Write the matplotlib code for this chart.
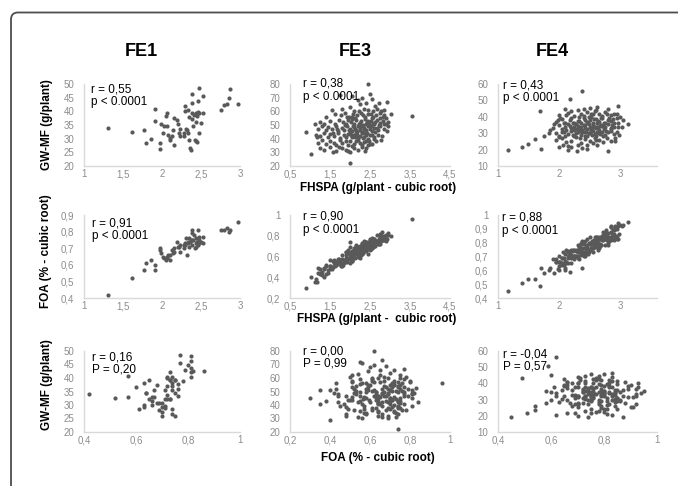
import matplotlib
matplotlib.use('Agg')
import matplotlib.pyplot as plt
from matplotlib import ticker
from matplotlib.patches import FancyBboxPatch
from matplotlib.transforms import IdentityTransform

plt.rcParams['font.family'] = ['Liberation Sans', 'DejaVu Sans']

W, H = 678, 486

# ---- FE1 (one value per genotype) ----
fe1_fhspa = [1.31, 1.62, 1.77, 1.80, 1.86, 1.91, 1.91, 1.98, 1.98, 1.99,
             2.02, 2.05, 2.06, 2.06, 2.01, 2.10, 2.10, 2.13, 2.15, 2.16,
             2.19, 2.14, 2.22, 2.23, 2.23, 2.28, 2.28, 2.30, 2.30, 2.33,
             2.31, 2.33, 2.35, 2.36, 2.38, 2.39, 2.39, 2.39, 2.40, 2.42,
             2.43, 2.44, 2.45, 2.46, 2.48, 2.46, 2.48, 2.48, 2.50, 2.53,
             2.53, 2.75, 2.80, 2.83, 2.86, 2.87, 2.97, 2.43, 2.45, 2.37,
             2.41, 2.35, 2.20, 2.32, 2.08]
fe1_gwmf = [34.0, 32.6, 33.0, 28.4, 29.9, 40.7, 36.6, 28.3, 26.1, 35.5,
            34.6, 38.3, 39.4, 34.6, 32.2, 30.1, 29.4, 30.8, 27.5, 37.5,
            36.9, 33.0, 32.2, 30.8, 33.6, 32.2, 30.8, 42.1, 40.2, 40.4,
            33.4, 32.2, 29.6, 26.6, 46.4, 43.0, 39.3, 37.1, 34.6, 29.4,
            39.3, 36.0, 38.3, 43.7, 48.5, 39.9, 32.2, 39.3, 35.7, 45.6,
            39.3, 40.5, 42.3, 42.5, 44.8, 48.2, 42.7, 29.0, 28.7, 26.0,
            38.8, 37.8, 35.5, 33.0, 31.5]
fe1_foa = [0.42, 0.52, 0.57, 0.61, 0.63, 0.57, 0.60, 0.69, 0.70, 0.67,
           0.64, 0.63, 0.65, 0.64, 0.65, 0.66, 0.63, 0.69, 0.70, 0.68,
           0.74, 0.67, 0.71, 0.68, 0.72, 0.72, 0.70, 0.73, 0.72, 0.74,
           0.76, 0.73, 0.71, 0.74, 0.81, 0.79, 0.75, 0.72, 0.75, 0.70,
           0.73, 0.76, 0.74, 0.81, 0.77, 0.72, 0.73, 0.75, 0.74, 0.77,
           0.73, 0.81, 0.81, 0.82, 0.80, 0.81, 0.86, 0.71, 0.74, 0.75,
           0.78, 0.76, 0.71, 0.66, 0.66]

# ---- FE3 ----
fe3_fhspa = [0.90, 1.03, 1.12, 1.18, 1.15, 3.55, 2.46, 1.75, 2.00, 2.50,
             2.05, 2.55, 2.92, 3.02, 2.30, 2.20, 2.62, 2.72, 2.40, 1.80,
             1.55, 2.00, 2.10, 2.25, 2.35, 2.45, 2.58, 2.68, 2.78, 2.86,
             1.40, 1.62, 1.78, 1.88, 1.98, 2.08, 2.18, 2.28, 2.38, 2.52,
             2.58, 2.66, 2.74, 2.82, 2.90, 2.22, 2.44, 2.12, 1.92, 2.32,
             1.25, 1.35, 1.50, 1.62, 1.72, 1.82, 1.90, 1.96, 2.02, 2.10,
             2.16, 2.22, 2.27, 2.33, 2.38, 2.43, 2.48, 2.53, 2.58, 2.63,
             2.68, 2.75, 2.82, 2.90, 2.96, 2.72, 2.86, 2.55, 2.40, 2.06,
             1.20, 1.30, 1.40, 1.46, 1.55, 1.65, 1.70, 1.80, 1.86, 1.92,
             2.00, 2.05, 2.10, 2.15, 2.20, 2.25, 2.30, 2.35, 2.40, 2.45,
             2.50, 2.55, 2.60, 2.70, 2.75, 2.85, 2.92, 2.12, 2.28, 2.62,
             1.25, 1.35, 1.45, 1.50, 1.60, 1.70, 1.75, 1.85, 1.90, 2.00,
             2.05, 2.10, 2.15, 2.20, 2.25, 2.30, 2.35, 2.40, 2.45, 2.50,
             2.60, 2.70, 2.80, 2.18, 2.32, 2.02, 1.95, 2.42, 2.56, 2.12,
             1.20, 1.30, 1.40, 1.50, 1.60, 1.65, 1.75, 1.80, 1.90, 1.95,
             2.00, 2.10, 2.20, 2.25, 2.30, 2.40, 2.50, 2.60, 2.15, 2.35,
             1.25, 1.35, 1.50, 1.65, 1.80, 1.90, 2.00, 2.10, 2.20, 2.30,
             2.40, 2.38, 1.58, 1.95, 2.05, 2.45, 1.72, 2.55, 2.65, 2.78,
             2.08, 2.18, 2.26, 2.34, 2.44, 2.52, 2.60, 2.68, 1.88, 1.98,
             2.04, 2.14, 2.24, 2.36, 2.48, 1.68, 1.58, 2.76, 2.84, 2.94]
fe3_gwmf = [45, 29, 51, 41, 43, 56.5, 80, 72, 22.5, 73,
            71, 69, 67, 58, 70, 68, 64, 66, 66, 62,
            61, 63, 60, 65, 62, 61, 60, 62, 60, 61,
            56, 58, 57, 59, 56, 58, 57, 59, 56, 58,
            55.5, 57, 59, 56, 55, 60, 58, 55, 55.5, 57,
            52, 51, 53, 50.5, 54, 52, 51, 53.5, 52, 50.5,
            54, 51, 53, 50, 54.5, 52, 51, 53, 50.5, 52,
            54, 51.5, 53, 51, 52.5, 50, 50.5, 55, 50.5, 54.5,
            47, 49, 46, 48.5, 47, 49, 45.5, 48, 46, 49.5,
            47, 45.5, 48.5, 46, 49, 47.5, 45, 48, 46.5, 49,
            47, 45.5, 48, 46, 49, 47, 45.5, 47, 49.5, 45,
            42, 44, 41, 43.5, 42, 44.5, 40.5, 43, 41.5, 44,
            41, 43, 44.5, 40.5, 42, 44, 41.5, 43, 40, 42.5,
            41, 43, 42, 42.5, 40.5, 42.5, 43.5, 44.5, 43, 41.5,
            37, 39, 36, 38.5, 37, 35.5, 39, 36.5, 38, 35.5,
            38, 36, 39, 37, 35.5, 38, 36, 39.5, 38.5, 37.5,
            33, 32, 34, 31, 33.5, 32, 30.5, 33, 31.5, 34,
            33, 31, 30.5, 31, 34.5, 35, 34, 36, 38, 39,
            49.5, 45, 51.5, 47, 53, 49.5, 51, 48, 50, 46,
            56, 43, 46.5, 44, 38.5, 47, 44, 55, 57, 49]
fe3_foa = [0.30, 0.40, 0.35, 0.35, 0.38, 0.96, 0.62, 0.55, 0.74, 0.66,
           0.56, 0.68, 0.77, 0.80, 0.62, 0.60, 0.70, 0.72, 0.65, 0.51,
           0.50, 0.54, 0.61, 0.59, 0.65, 0.67, 0.69, 0.75, 0.75, 0.78,
           0.43, 0.51, 0.51, 0.55, 0.58, 0.61, 0.62, 0.61, 0.71, 0.67,
           0.72, 0.74, 0.77, 0.76, 0.75, 0.64, 0.72, 0.59, 0.55, 0.65,
           0.43, 0.40, 0.51, 0.53, 0.53, 0.52, 0.59, 0.59, 0.58, 0.61,
           0.67, 0.62, 0.68, 0.63, 0.71, 0.69, 0.70, 0.74, 0.73, 0.75,
           0.74, 0.79, 0.77, 0.81, 0.83, 0.77, 0.76, 0.70, 0.71, 0.60,
           0.44, 0.42, 0.51, 0.44, 0.48, 0.52, 0.58, 0.53, 0.57, 0.58,
           0.62, 0.57, 0.66, 0.65, 0.66, 0.63, 0.70, 0.69, 0.68, 0.69,
           0.77, 0.70, 0.77, 0.72, 0.82, 0.79, 0.81, 0.64, 0.67, 0.75,
           0.44, 0.49, 0.47, 0.51, 0.54, 0.565, 0.56, 0.55, 0.64, 0.595,
           0.65, 0.64, 0.70, 0.64, 0.66, 0.71, 0.75, 0.70, 0.72, 0.74,
           0.77, 0.75, 0.84, 0.69, 0.70, 0.60, 0.63, 0.73, 0.74, 0.64,
           0.49, 0.45, 0.52, 0.48, 0.57, 0.55, 0.57, 0.61, 0.61, 0.64,
           0.63, 0.68, 0.66, 0.70, 0.72, 0.74, 0.76, 0.74, 0.71, 0.69,
           0.48, 0.48, 0.57, 0.54, 0.58, 0.64, 0.69, 0.66, 0.69, 0.73,
           0.74, 0.73, 0.56, 0.66, 0.64, 0.72, 0.58, 0.78, 0.75, 0.81,
           0.63, 0.64, 0.66, 0.67, 0.71, 0.74, 0.70, 0.81, 0.55, 0.63,
           0.56, 0.68, 0.64, 0.71, 0.74, 0.55, 0.50, 0.72, 0.80, 0.81]

# ---- FE4 ----
fe4_fhspa = [1.16, 1.40, 1.49, 1.60, 1.69, 1.71, 1.75, 1.83, 2.17, 2.37,
             2.10, 2.97, 3.13, 3.00, 2.97, 3.05, 2.29, 2.14, 1.99, 2.91,
             2.00, 2.15, 2.30, 2.40, 2.45, 2.50, 2.55, 2.60, 2.65, 2.70,
             2.75, 2.85, 2.90, 2.25, 2.35, 2.62, 2.48, 2.80, 2.20, 2.68,
             1.95, 2.05, 2.10, 2.20, 2.30, 2.35, 2.40, 2.45, 2.50, 2.55,
             2.60, 2.65, 2.70, 2.75, 2.80, 2.85, 2.90, 2.95, 2.25, 2.52,
             1.90, 2.00, 2.05, 2.10, 2.15, 2.20, 2.25, 2.30, 2.35, 2.40,
             2.45, 2.50, 2.55, 2.60, 2.65, 2.70, 2.75, 2.80, 2.85, 2.90,
             2.28, 2.42, 2.58, 2.38, 2.68, 2.18, 2.48, 2.32, 2.62, 2.52,
             1.95, 2.00, 2.08, 2.15, 2.20, 2.25, 2.30, 2.35, 2.40, 2.45,
             2.50, 2.55, 2.60, 2.65, 2.70, 2.75, 2.80, 2.85, 2.90, 2.35,
             2.12, 2.22, 2.42, 2.52, 2.62, 2.72, 2.28, 2.48, 2.58, 2.05,
             1.95, 2.05, 2.12, 2.20, 2.28, 2.35, 2.42, 2.50, 2.58, 2.65,
             2.72, 2.78, 2.85, 2.30, 2.45, 2.15, 2.55, 2.38, 2.62, 2.92,
             2.33, 2.43, 2.53, 2.63, 2.73, 2.37, 2.47, 2.57, 2.67, 2.27,
             2.08, 2.18, 2.44, 2.54, 2.64, 2.74, 2.84, 2.94, 2.24, 2.34,
             2.02, 2.12, 2.22, 2.32, 2.42, 2.52, 2.62, 2.72, 2.82, 2.40,
             1.85, 1.92, 2.00, 2.06, 1.98, 2.10, 2.20, 2.45, 2.60, 2.80,
             2.88, 2.95, 3.02, 2.98, 2.78, 2.58, 2.66, 2.76, 2.86, 2.96]
fe4_gwmf = [19.5, 21.5, 23.7, 26.2, 43.5, 20.5, 28, 30, 50.8, 56,
            45, 46.5, 35.4, 40, 34, 38, 19.4, 20, 21.5, 27,
            41, 42.5, 44, 40.5, 43, 45.5, 41.5, 44, 42, 40.5,
            43, 41, 42, 40.5, 42, 46, 40, 44.5, 43.5, 39.5,
            37, 38.5, 36, 39, 37.5, 36.5, 39, 37, 38, 36.5,
            38.5, 37, 39.5, 36, 38, 37.5, 36.5, 39, 36, 40,
            33, 35, 32.5, 34, 35.5, 33, 32, 34.5, 33.5, 35,
            32.5, 34, 35, 33, 32, 34.5, 33.5, 35.5, 32.5, 34,
            35.5, 33, 34, 32, 35, 34.5, 35.5, 32.5, 33.5, 32,
            30, 28.5, 31, 29.5, 31.5, 28, 30.5, 29, 31, 28.5,
            30, 31.5, 28.5, 30, 31, 29, 30.5, 31.5, 29.5, 31.5,
            32, 29, 28, 32, 31, 28, 32.5, 30, 29.5, 30.5,
            26, 27, 24.5, 25.5, 27.5, 24, 26.5, 25, 27, 26,
            24.5, 27, 25.5, 23, 22.5, 22, 24, 21, 22.5, 25.5,
            37.5, 35, 33, 37.5, 32.5, 31, 36.5, 38.5, 29.5, 30,
            36, 38, 31, 29, 34, 36, 33, 31, 34, 27,
            39, 41, 36.5, 40, 38, 42, 36, 34.5, 39.5, 44.5,
            32, 35.5, 27.5, 23, 38, 28, 21.5, 20.5, 26, 19,
            38.5, 41.5, 33.5, 29, 41.5, 43.5, 34.5, 31.5, 35, 36.5]
fe4_foa = [0.45, 0.51, 0.54, 0.54, 0.49, 0.62, 0.58, 0.60, 0.59, 0.62,
           0.60, 0.83, 0.95, 0.93, 0.94, 0.93, 0.74, 0.70, 0.66, 0.92,
           0.66, 0.65, 0.70, 0.70, 0.76, 0.75, 0.73, 0.83, 0.77, 0.82,
           0.78, 0.88, 0.82, 0.70, 0.71, 0.80, 0.73, 0.78, 0.71, 0.78,
           0.66, 0.65, 0.72, 0.65, 0.69, 0.76, 0.79, 0.74, 0.75, 0.79,
           0.80, 0.76, 0.85, 0.87, 0.83, 0.82, 0.89, 0.90, 0.68, 0.76,
           0.68, 0.60, 0.69, 0.62, 0.73, 0.69, 0.70, 0.75, 0.74, 0.76,
           0.75, 0.80, 0.76, 0.80, 0.83, 0.84, 0.83, 0.80, 0.92, 0.84,
           0.74, 0.76, 0.82, 0.73, 0.78, 0.72, 0.80, 0.73, 0.77, 0.80,
           0.66, 0.63, 0.69, 0.74, 0.70, 0.70, 0.73, 0.79, 0.72, 0.78,
           0.84, 0.76, 0.84, 0.78, 0.85, 0.85, 0.84, 0.91, 0.86, 0.75,
           0.65, 0.75, 0.72, 0.79, 0.81, 0.88, 0.70, 0.75, 0.84, 0.64,
           0.68, 0.69, 0.75, 0.70, 0.70, 0.80, 0.81, 0.79, 0.78, 0.84,
           0.85, 0.82, 0.91, 0.78, 0.77, 0.69, 0.81, 0.81, 0.80, 0.90,
           0.77, 0.72, 0.79, 0.75, 0.87, 0.76, 0.72, 0.82, 0.83, 0.75,
           0.64, 0.73, 0.73, 0.81, 0.80, 0.85, 0.84, 0.85, 0.75, 0.74,
           0.66, 0.66, 0.74, 0.68, 0.70, 0.79, 0.84, 0.82, 0.81, 0.73,
           0.62, 0.58, 0.70, 0.73, 0.61, 0.67, 0.75, 0.83, 0.79, 0.87,
           0.89, 0.83, 0.92, 0.86, 0.85, 0.77, 0.79, 0.89, 0.86, 0.92]

env_names = ['FE1', 'FE3', 'FE4']
r_text = [['r = 0,55', 'r = 0,38', 'r = 0,43'],
          ['r = 0,91', 'r = 0,90', 'r = 0,88'],
          ['r = 0,16', 'r = 0,00', 'r = -0,04']]
p_text = [['p < 0.0001', 'p < 0.0001', 'p < 0.0001'],
          ['p < 0.0001', 'p < 0.0001', 'p < 0.0001'],
          ['P = 0,20', 'P = 0,99', 'P = 0,57']]

ticks_fhspa = [[1, 1.5, 2, 2.5, 3], [0.5, 1.5, 2.5, 3.5, 4.5], [1, 2, 3]]
ticks_foa_x = [[0.4, 0.6, 0.8, 1], [0.2, 0.4, 0.6, 0.8, 1], [0.4, 0.6, 0.8, 1]]
ticks_gw = [[20, 25, 30, 35, 40, 45, 50], [20, 30, 40, 50, 60, 70, 80],
            [10, 20, 30, 40, 50, 60]]
ticks_foa_y = [[0.4, 0.5, 0.6, 0.7, 0.8, 0.9], [0.2, 0.4, 0.6, 0.8, 1],
               [0.4, 0.5, 0.6, 0.7, 0.8, 0.9, 1]]

envs = [(fe1_fhspa, fe1_foa, fe1_gwmf),
        (fe3_fhspa, fe3_foa, fe3_gwmf),
        (fe4_fhspa, fe4_foa, fe4_gwmf)]

# layout in pixels
col_px = [(84, 240), (290, 450), (498, 657)]
row_px = [(84, 166), (215, 298), (351, 432)]
txt_px = [[(91, 89, 102.5), (303, 84, 96.5), (503, 86, 97.5)],
          [(92, 223, 236), (303, 216.5, 230), (502, 217, 231)],
          [(92, 357, 369), (303, 351, 363.5), (503, 354, 366)]]

fig = plt.figure(figsize=(W / 100, H / 100), dpi=100)


def ftext(x, y, s, **kw):
    fig.text(x / W, 1 - y / H, s, **kw)


comma = ticker.FuncFormatter(lambda v, pos: f'{v:g}'.replace('.', ','))

for r in range(3):
    for c in range(3):
        fh, fo, gw = envs[c]
        if r == 0:
            xs, ys, xt, yt = fh, gw, ticks_fhspa[c], ticks_gw[c]
        elif r == 1:
            xs, ys, xt, yt = fh, fo, ticks_fhspa[c], ticks_foa_y[c]
        else:
            xs, ys, xt, yt = fo, gw, ticks_foa_x[c], ticks_gw[c]
        x0, x1 = col_px[c]
        y0, y1 = row_px[r]
        ax = fig.add_axes([x0 / W, 1 - y1 / H, (x1 - x0) / W, (y1 - y0) / H])
        ax.scatter(xs, ys, s=9, color='#595959', linewidths=0, clip_on=False, zorder=3)
        ax.set_xticks(xt)
        ax.set_yticks(yt)
        xmax = 3.6 if (c == 2 and r < 2) else xt[-1]
        ax.set_xlim(xt[0], xmax)
        ax.set_ylim(yt[0], yt[-1])
        ax.xaxis.set_major_formatter(comma)
        ax.yaxis.set_major_formatter(comma)
        for s in ['top', 'right']:
            ax.spines[s].set_visible(False)
        for s in ['left', 'bottom']:
            ax.spines[s].set_color('#d9d9d9')
            ax.spines[s].set_linewidth(1)
        ax.tick_params(length=0, labelsize=7, labelcolor='#8c8c8c')
        ax.tick_params(axis='y', pad=7)
        ax.tick_params(axis='x', pad=2.5)
        ax.patch.set_alpha(0)

        tx, ty_r, ty_p = txt_px[r][c]
        ftext(tx, ty_r, r_text[r][c], fontsize=8.5, va='center', ha='left')
        ftext(tx, ty_p, p_text[r][c], fontsize=8.5, va='center', ha='left')

# column titles
for name, cx in zip(env_names, [141, 355, 552]):
    ftext(cx, 52, name, fontsize=13, fontweight='bold', ha='center', va='center')

# axis titles
ftext(47, 125, 'GW-MF (g/plant)', fontsize=8.5, fontweight='bold', rotation=90,
      ha='center', va='center')
ftext(46, 251, 'FOA (% - cubic root)', fontsize=8.5, fontweight='bold', rotation=90,
      ha='center', va='center')
ftext(47, 385, 'GW-MF (g/plant)', fontsize=8.5, fontweight='bold', rotation=90,
      ha='center', va='center')
ftext(378, 188, 'FHSPA (g/plant - cubic root)', fontsize=8.5, fontweight='bold',
      ha='center', va='center')
ftext(377, 319, 'FHSPA (g/plant -  cubic root)', fontsize=8.5, fontweight='bold',
      ha='center', va='center')
ftext(378, 458, 'FOA (% - cubic root)', fontsize=8.5, fontweight='bold',
      ha='center', va='center')

# rounded frame that runs off the right and bottom edges
frame = FancyBboxPatch((11, -40), 720, 473.5 + 40,
                       boxstyle='round,pad=0,rounding_size=7',
                       transform=IdentityTransform(), fill=False,
                       edgecolor='#4d4d4d', linewidth=1.3)
fig.add_artist(frame)

fig.savefig('out.png', dpi=100)
